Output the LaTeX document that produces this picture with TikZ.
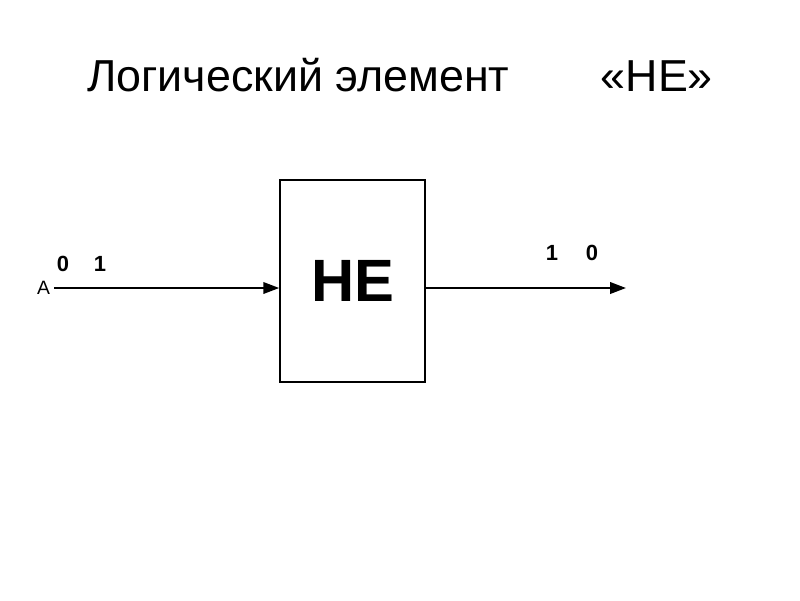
\documentclass[tikz,border=0pt]{standalone}
\usepackage{fontspec}
\setmainfont{Liberation Sans}
\usetikzlibrary{arrows.meta, positioning}

\begin{document}
\begin{tikzpicture}[x=0.02cm, y=-0.02cm, >={Triangle[length=9pt, width=6.5pt]}]
    % 1. Рамка и заголовок
    \useasboundingbox (0,0) rectangle (800,600);
    \node (title) at (400,75) {\fontsize{25.5}{30}\selectfont Логический элемент\hspace{52pt}«НЕ»};
    
    % 2. Элемент НЕ
    \node[draw, line width=1.2pt, minimum width=145*0.567pt, minimum height=202*0.567pt,
        inner sep=0pt] (ne) at (352.5,281) {\fontsize{34}{40}\selectfont\bfseries НЕ};
    
    % 3. Вход и выход
    \coordinate (a) at (54,288);
    \coordinate (y) at (626,288);
    \draw[->, line width=1.2pt] (a) -- (a -| ne.west);
    \draw[->, line width=1.2pt] (y -| ne.east) -- (y);
    \node[left, inner sep=2pt] (alabel) at (a) {\fontsize{11}{13}\selectfont A};
    
    % 4. Значения на входе и выходе
    \node (in0) at (63,264) {\fontsize{12.5}{15}\selectfont\bfseries 0};
    \node (in1) at (100,264) {\fontsize{12.5}{15}\selectfont\bfseries 1};
    \node (out1) at (552,253) {\fontsize{12.5}{15}\selectfont\bfseries 1};
    \node (out0) at (592,253) {\fontsize{12.5}{15}\selectfont\bfseries 0};
    
\end{tikzpicture}
\end{document}
